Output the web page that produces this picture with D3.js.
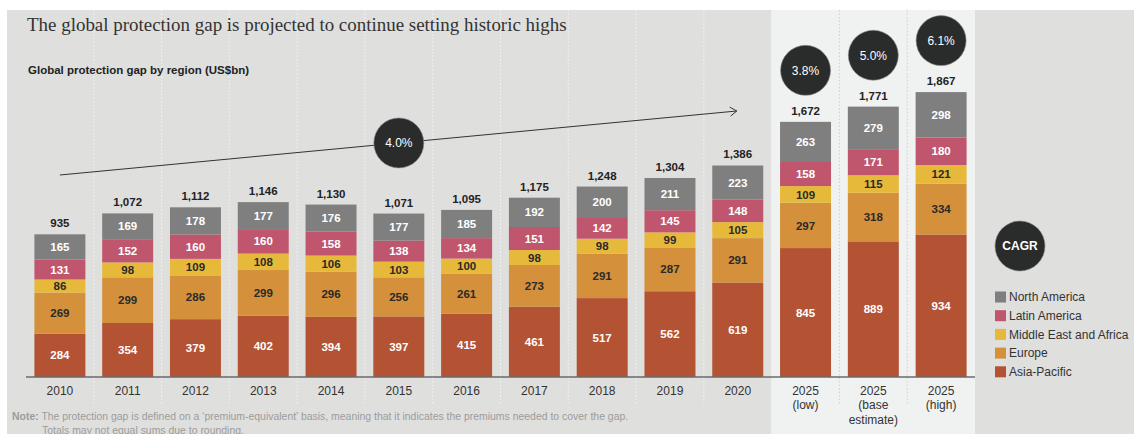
<!DOCTYPE html>
<html>
<head>
<meta charset="utf-8">
<script src="https://cdn.jsdelivr.net/npm/d3@7/dist/d3.min.js"></script>
<style>
html,body{margin:0;padding:0;background:#fff;}
svg{display:block;}
</style>
</head>
<body>
<svg id="chart" width="1134" height="434"></svg>
<script>
// ---------- DATA ----------
const categories = ["2010","2011","2012","2013","2014","2015","2016","2017","2018","2019","2020","2025 (low)","2025 (base estimate)","2025 (high)"];
const categoryLines = [["2010"],["2011"],["2012"],["2013"],["2014"],["2015"],["2016"],["2017"],["2018"],["2019"],["2020"],["2025","(low)"],["2025","(base","estimate)"],["2025","(high)"]];
const asiaPacific   = [284,354,379,402,394,397,415,461,517,562,619,845,889,934];
const europe        = [269,299,286,299,296,256,261,273,291,287,291,297,318,334];
const middleEastAfrica = [86,98,109,108,106,103,100,98,98,99,105,109,115,121];
const latinAmerica  = [131,152,160,160,158,138,134,151,142,145,148,158,171,180];
const northAmerica  = [165,169,178,177,176,177,185,192,200,211,223,263,279,298];
const totals        = [935,1072,1112,1146,1130,1071,1095,1175,1248,1304,1386,1672,1771,1867];
const projectionCategories = ["2025 (low)","2025 (base estimate)","2025 (high)"];
const projectionCagr = ["3.8%","5.0%","6.1%"];
const historicCagr = "4.0%";
const seriesNames = ["Asia-Pacific","Europe","Middle East and Africa","Latin America","North America"];
const legendOrder = ["North America","Latin America","Middle East and Africa","Europe","Asia-Pacific"];
const titleText = "The global protection gap is projected to continue setting historic highs";
const subtitleText = "Global protection gap by region (US$bn)";
const noteBold = "Note:";
const noteLine1 = " The protection gap is defined on a \u2018premium-equivalent\u2019 basis, meaning that it indicates the premiums needed to cover the gap.";
const noteLine2 = "Totals may not equal sums due to rounding.";

// ---------- STYLE ----------
const colors = {
  "Asia-Pacific":"#b45234",
  "Europe":"#d4903a",
  "Middle East and Africa":"#e7b93b",
  "Latin America":"#c0566d",
  "North America":"#7f7f7f"
};
const labelColors = {
  "Asia-Pacific":"#ffffff",
  "Europe":"#2a2a2a",
  "Middle East and Africa":"#2a2a2a",
  "Latin America":"#ffffff",
  "North America":"#ffffff"
};
const SANS = "'Liberation Sans', Arial, Helvetica, sans-serif";
const SERIF = "'Liberation Serif', 'DejaVu Serif', Georgia, serif";

const svg = d3.select("#chart");
const W = 1134, H = 434;

// table for stacking
const seriesArrays = [asiaPacific, europe, middleEastAfrica, latinAmerica, northAmerica];
const table = categories.map((c,i) => {
  const row = {category:c, total: totals[i], lines: categoryLines[i]};
  seriesNames.forEach((s,k) => row[s] = seriesArrays[k][i]);
  return row;
});
const stack = d3.stack().keys(seriesNames)(table);

// scales
const x = d3.scaleBand().domain(categories).range([26, 975]).paddingInner(0.248).paddingOuter(0.124);
const y = d3.scaleLinear().domain([0, 1000]).range([377, 224.4]);
const cx = c => x(c) + x.bandwidth()/2;

// backgrounds
svg.append("rect").attr("x",7).attr("y",10).attr("width",W-7).attr("height",H-10).attr("fill","#dfdfde");
const projStart = x(projectionCategories[0]) - (x.step()-x.bandwidth())/2 - 0.5;
const projEnd = x(projectionCategories[2]) + x.bandwidth() + (x.step()-x.bandwidth())/2;
svg.append("rect").attr("x",projStart).attr("y",10).attr("width",projEnd-projStart).attr("height",H-10).attr("fill","#f0f1f1");

// dotted separators
for (let i=1;i<categories.length;i++){
  const xs = x(categories[i]) - (x.step()-x.bandwidth())/2;
  if (Math.abs(xs - projStart) < 2) continue;
  const inProj = xs > projStart;
  svg.append("line").attr("x1",xs).attr("x2",xs).attr("y1",10).attr("y2",404)
    .attr("stroke", inProj ? "#cfd0d0" : "#f4f4f4").attr("stroke-width",1)
    .attr("stroke-dasharray","1.5,2");
}

// title & subtitle
const title = svg.append("text").attr("x",27).attr("y",31).attr("font-family",SERIF)
  .attr("font-size",20).attr("fill","#333").text(titleText);
const tw = title.node().getComputedTextLength();
title.attr("font-size", 20*540/tw);
svg.append("text").attr("x",28).attr("y",74).attr("font-family",SANS).attr("font-weight","bold")
  .attr("font-size",11.5).attr("fill","#222").text(subtitleText);

// bars
const g = svg.append("g");
stack.forEach(layer => {
  const key = layer.key;
  layer.forEach(d => {
    const c = d.data.category;
    g.append("rect").attr("x",x(c)).attr("width",x.bandwidth())
      .attr("y",y(d[1])).attr("height",y(d[0])-y(d[1])).attr("fill",colors[key]);
    g.append("text").attr("x",cx(c)).attr("y",(y(d[0])+y(d[1]))/2)
      .attr("dy","0.36em").attr("text-anchor","middle").attr("font-family",SANS)
      .attr("font-weight","bold").attr("font-size",11.5).attr("fill",labelColors[key])
      .text(d.data[key]);
  });
});

// totals
table.forEach(d => {
  const top = y(d3.sum(seriesNames, s => d[s]));
  g.append("text").attr("x",cx(d.category)).attr("y",top-7).attr("text-anchor","middle")
    .attr("font-family",SANS).attr("font-weight","bold").attr("font-size",11.5).attr("fill","#222")
    .text(d3.format(",")(d.total));
});

// baseline axis
svg.append("line").attr("x1",x.range()[0]).attr("x2",x.range()[1]).attr("y1",y(0)).attr("y2",y(0))
  .attr("stroke","#6a6a6a").attr("stroke-width",1.5);

// category labels
table.forEach(d => {
  const t = svg.append("text").attr("x",cx(d.category)).attr("y",395).attr("text-anchor","middle")
    .attr("font-family",SANS).attr("font-size",12).attr("fill","#333");
  d.lines.forEach((ln,i) => t.append("tspan").attr("x",cx(d.category)).attr("dy", i===0?0:14.3).text(ln));
});

// trend arrow
const ax0 = cx(categories[0]), ax1 = cx(categories[10]) - 1;
const ay0 = 175, ay1 = 111;
svg.append("line").attr("x1",ax0).attr("y1",ay0).attr("x2",ax1).attr("y2",ay1)
  .attr("stroke","#333").attr("stroke-width",1);
const ang = Math.atan2(ay1-ay0, ax1-ax0);
const hl = 8, ha = 0.6;
svg.append("path").attr("d",
  `M${ax1-hl*Math.cos(ang-ha)},${ay1-hl*Math.sin(ang-ha)} L${ax1},${ay1} L${ax1-hl*Math.cos(ang+ha)},${ay1-hl*Math.sin(ang+ha)}`)
  .attr("fill","none").attr("stroke","#333").attr("stroke-width",1);

function badge(px, py, label, bold){
  svg.append("circle").attr("cx",px).attr("cy",py).attr("r",25).attr("fill","#2a2c2c")
    .attr("stroke","#8a8a8a").attr("stroke-width",0.6);
  svg.append("text").attr("x",px).attr("y",py).attr("dy","0.36em").attr("text-anchor","middle")
    .attr("font-family",SANS).attr("font-size",12).attr("font-weight",bold?"bold":"normal")
    .attr("fill","#fff").text(label);
}
// historic CAGR badge on arrow at 2015
const bx = cx("2015");
badge(bx, ay0 + (bx-ax0)/(ax1-ax0)*(ay1-ay0), historicCagr, false);
// projection badges
projectionCategories.forEach((c,i) => {
  const idx = categories.indexOf(c);
  badge(cx(c), y(totals[idx]) - 51.5, projectionCagr[i], false);
});
// CAGR legend badge
badge(1020, 246, "CAGR", true);

// legend
legendOrder.forEach((s,i) => {
  const ly = 297 + i*18.7;
  svg.append("rect").attr("x",995).attr("y",ly-5.5).attr("width",11).attr("height",11).attr("fill",colors[s]);
  svg.append("text").attr("x",1009).attr("y",ly).attr("dy","0.36em").attr("font-family",SANS)
    .attr("font-size",12).attr("fill","#333").text(s);
});

// note
const n1 = svg.append("text").attr("x",12).attr("y",419.5).attr("font-family",SANS).attr("font-size",10.45).attr("fill","#9c9c9c");
n1.append("tspan").attr("font-weight","bold").text(noteBold);
n1.append("tspan").text(noteLine1);
svg.append("text").attr("x",42).attr("y",433.5).attr("font-family",SANS).attr("font-size",10.45).attr("fill","#9c9c9c").text(noteLine2);
</script>
</body>
</html>
